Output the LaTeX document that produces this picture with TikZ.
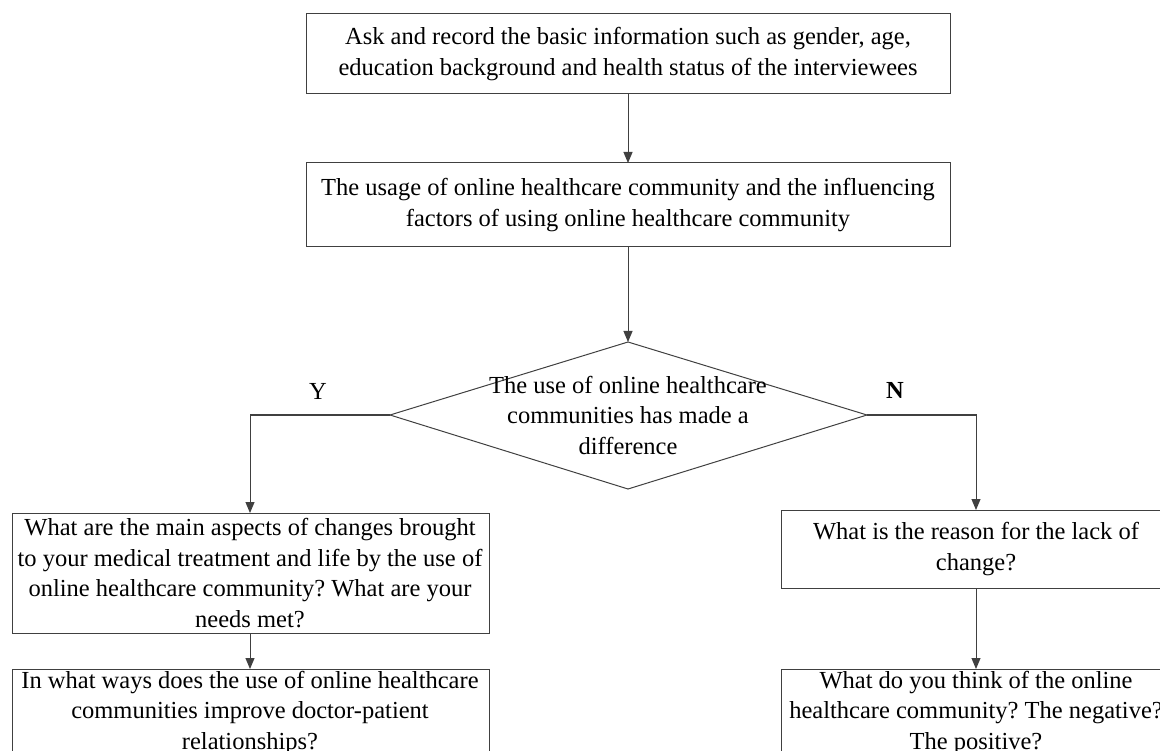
\documentclass[tikz,border=0pt]{standalone}
\usepackage{fontspec}
\setmainfont{Liberation Serif}
\usetikzlibrary{arrows.meta,shapes.geometric}
\definecolor{ln}{HTML}{404040}
\begin{document}
\frenchspacing
\begin{tikzpicture}[x=1pt,y=-1pt,
  every node/.style={font=\fontsize{24.5}{30.5}\selectfont},
  txt/.style={align=center,inner sep=0pt},
  boxline/.style={draw=ln,line width=1pt},
  conn/.style={draw=ln,line width=1pt,-{Triangle[length=11pt,width=9pt]}},
]
\useasboundingbox (0,0) rectangle (1160,751);
% boxes
\draw[boxline] (306,14) rectangle (950,94);
\node[txt] (b1) at (628,54) {Ask and record the basic information such as gender, age,\\education background and health status of the interviewees};
\coordinate (b1s) at (628,94);
\draw[boxline] (306,163) rectangle (950,247);
\node[txt] (b2) at (628,205) {The usage of online healthcare community and the influencing\\factors of using online healthcare community};
\coordinate (b2n) at (628,163);
\coordinate (b2s) at (628,247);
% diamond
\draw[boxline] (390,415) -- (628,342) -- (867,415) -- (628,489) -- cycle;
\coordinate (dn) at (628,342);
\coordinate (dw) at (390,415);
\coordinate (de) at (867,415);
\node[txt] (dt) at (628,415) {The use of online healthcare\\communities has made a\\difference};
% left boxes
\draw[boxline] (12,513) rectangle (489,633);
\node[txt] (b3) at (250,573) {What are the main aspects of changes brought\\to your medical treatment and life by the use of\\online healthcare community? What are your\\needs met?};
\coordinate (b3n) at (250,513);
\coordinate (b3s) at (250,633);
\draw[boxline] (12,669) rectangle (489,800);
\coordinate (b4n) at (250,669);
\node[txt,anchor=north] (b4) at (250,671) {In what ways does the use of online healthcare\\communities improve doctor-patient\\relationships?};
% right boxes
\draw[boxline] (781,510) rectangle (1170,588);
\coordinate (b5n) at (976,510);
\coordinate (b5s) at (976,588);
\node[txt] (b5) at (976,549) {What is the reason for the lack of\\change?};
\draw[boxline] (781,669) rectangle (1170,800);
\coordinate (b6n) at (976,669);
\node[txt,anchor=north] (b6) at (976,671) {What do you think of the online\\healthcare community? The negative?\\The positive?};
% labels
\node (ly) at (318,391) {Y};
\node[font=\fontsize{24.5}{30.5}\selectfont\bfseries] (ln) at (895,390) {N};
% connectors
\draw[conn] (b1s) -- (b2n);
\draw[conn] (b2s) -- (dn);
\draw[conn] (dw) -| (b3n);
\draw[conn] (de) -| (b5n);
\draw[conn] (b3s) -- (b4n);
\draw[conn] (b5s) -- (b6n);
\end{tikzpicture}
\end{document}
